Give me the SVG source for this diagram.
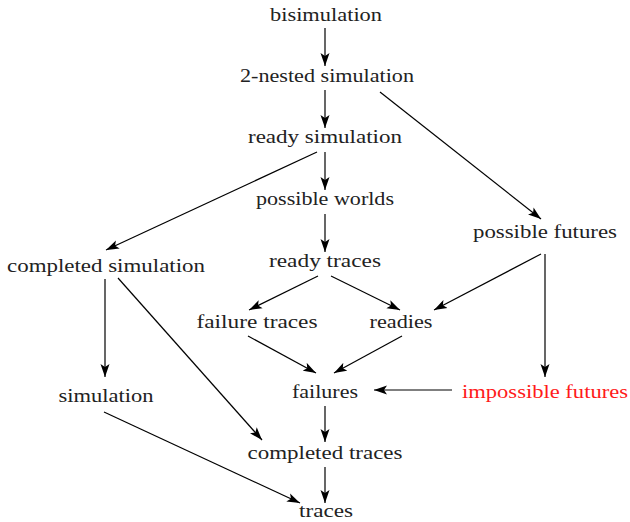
<svg xmlns="http://www.w3.org/2000/svg" width="630" height="522" viewBox="0 0 630 522">
<defs>
<marker id="ah" markerUnits="userSpaceOnUse" markerWidth="14" markerHeight="10" refX="13" refY="4.5" orient="auto" viewBox="0 0 14 9">
<path d="M0,0 L13,4.5 L0,9 L3,4.5 Z" fill="#000"/>
</marker>
<style>
text{font-family:"Liberation Serif","Times New Roman",serif;font-size:18px;fill:#222;text-anchor:middle}
.red{fill:#ff1a1a}
.e line{stroke:#000;stroke-width:1.2;marker-end:url(#ah)}
</style>
</defs>
<rect width="630" height="522" fill="#fff"/>
<g class="e" id="connectors">
<line x1="325" y1="28" x2="325" y2="66"/>
<line x1="325" y1="90" x2="325" y2="128"/>
<line x1="380" y1="92" x2="541" y2="219"/>
<line x1="325" y1="152" x2="325" y2="190"/>
<line x1="317" y1="152" x2="106" y2="250"/>
<line x1="325" y1="214" x2="325" y2="252"/>
<line x1="318" y1="276" x2="249" y2="310"/>
<line x1="331" y1="276" x2="400" y2="310"/>
<line x1="541" y1="254" x2="434" y2="310"/>
<line x1="545" y1="254" x2="545" y2="377"/>
<line x1="105" y1="279" x2="105" y2="377"/>
<line x1="118" y1="278" x2="262" y2="440"/>
<line x1="248" y1="336" x2="316" y2="373"/>
<line x1="402" y1="336" x2="334" y2="373"/>
<line x1="452" y1="390" x2="374" y2="390"/>
<line x1="325" y1="406" x2="325" y2="442"/>
<line x1="104" y1="412" x2="300" y2="503"/>
<line x1="325" y1="467" x2="325" y2="503"/>
</g>
<g id="bisimulation"><text x="326" y="21" textLength="112" lengthAdjust="spacingAndGlyphs">bisimulation</text></g>
<g id="nested"><text x="327" y="82" textLength="174" lengthAdjust="spacingAndGlyphs">2-nested simulation</text></g>
<g id="readysim"><text x="325" y="143" textLength="154" lengthAdjust="spacingAndGlyphs">ready simulation</text></g>
<g id="worlds"><text x="325" y="205" textLength="138" lengthAdjust="spacingAndGlyphs">possible worlds</text></g>
<g id="futures"><text x="545" y="238" textLength="144" lengthAdjust="spacingAndGlyphs">possible futures</text></g>
<g id="complsim"><text x="106" y="272" textLength="198" lengthAdjust="spacingAndGlyphs">completed simulation</text></g>
<g id="readytraces"><text x="325" y="267" textLength="112" lengthAdjust="spacingAndGlyphs">ready traces</text></g>
<g id="failtraces"><text x="257" y="328" textLength="121" lengthAdjust="spacingAndGlyphs">failure traces</text></g>
<g id="readies"><text x="401" y="328" textLength="63" lengthAdjust="spacingAndGlyphs">readies</text></g>
<g id="simulation"><text x="106" y="402" textLength="95" lengthAdjust="spacingAndGlyphs">simulation</text></g>
<g id="failures"><text x="325" y="398" textLength="66" lengthAdjust="spacingAndGlyphs">failures</text></g>
<g id="impfutures"><text class="red" x="545" y="398" textLength="166" lengthAdjust="spacingAndGlyphs">impossible futures</text></g>
<g id="compltraces"><text x="325" y="459" textLength="155" lengthAdjust="spacingAndGlyphs">completed traces</text></g>
<g id="traces"><text x="326" y="517" textLength="54" lengthAdjust="spacingAndGlyphs">traces</text></g>
</svg>
